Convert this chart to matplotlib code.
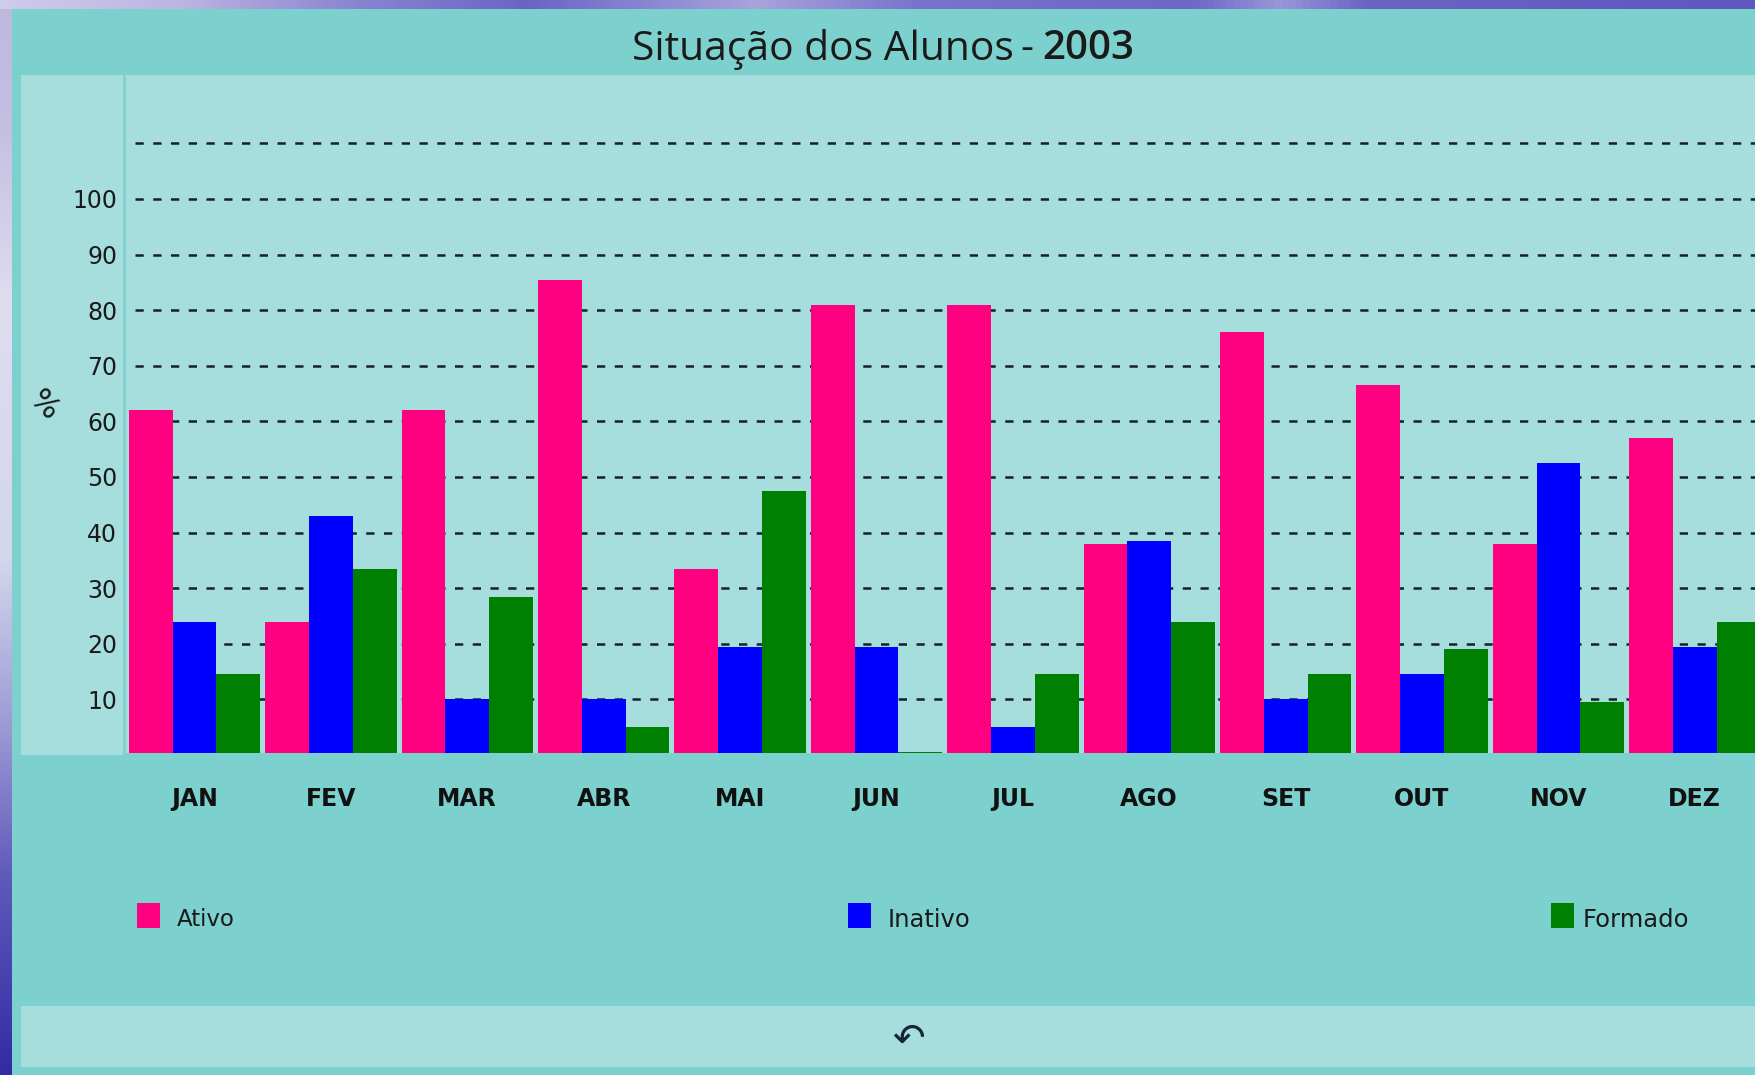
import numpy as np
import matplotlib
matplotlib.use("Agg")
import matplotlib.pyplot as plt
from matplotlib.patches import Rectangle
from matplotlib.colors import LinearSegmentedColormap

months = ["JAN", "FEV", "MAR", "ABR", "MAI", "JUN", "JUL", "AGO", "SET", "OUT", "NOV", "DEZ"]
ativo = [62, 24, 62, 85.5, 33.5, 81, 81, 38, 76, 66.5, 38, 57]
inativo = [24, 43, 10, 10, 19.5, 19.5, 5, 38.5, 10, 14.5, 52.5, 19.5]
formado = [14.5, 33.5, 28.5, 5, 47.5, 0.5, 14.5, 24, 14.5, 19, 9.5, 24]
series_names = ["Ativo", "Inativo", "Formado"]
grid_values = list(range(10, 120, 10))
tick_values = list(range(10, 110, 10))

W, H = 1755, 1075
PINK, BLUE, GREEN = "#FF0080", "#0000FF", "#008000"
PANEL, LIGHT, LINE = "#7CD0CE", "#A5DEDD", "#7FD0CE"

fig = plt.figure(figsize=(W / 100, H / 100), dpi=100)

def px_axes(x0, y0, x1, y1, **kw):
    return fig.add_axes([x0 / W, 1 - y1 / H, (x1 - x0) / W, (y1 - y0) / H], **kw)

# backdrop
bg = fig.add_axes([0, 0, 1, 1], zorder=0)
bg.set_xlim(0, W); bg.set_ylim(H, 0); bg.axis("off")
left_cmap = LinearSegmentedColormap.from_list("l", [
    (0.00, "#BDB8DE"), (0.12, "#C4C0E2"), (0.28, "#DEDDF0"), (0.52, "#D4D6EC"),
    (0.68, "#9C98D4"), (0.82, "#5E58BA"), (1.00, "#322CA4")])
top_cmap = LinearSegmentedColormap.from_list("t", [
    (0.00, "#CFCBEA"), (0.10, "#BBB6E2"), (0.20, "#8A85D0"), (0.30, "#6A64C6"),
    (0.43, "#A8A4DC"), (0.52, "#7A74CC"), (0.68, "#6C66C6"), (0.73, "#9A96D8"),
    (0.78, "#6A64C4"), (1.00, "#5E58BE")])
bg.imshow(np.linspace(0, 1, 256)[:, None], cmap=left_cmap, extent=(0, 12, H, 0), aspect="auto")
bg.imshow(np.linspace(0, 1, 256)[None, :], cmap=top_cmap, extent=(0, W, 9, 0), aspect="auto")
bg.set_xlim(0, W); bg.set_ylim(H, 0)
bg.add_patch(Rectangle((12, 9), W - 12, H - 9, color=PANEL, lw=0))
bg.add_patch(Rectangle((21, 75), 103, 680, color=LIGHT, lw=0))
bg.add_patch(Rectangle((21, 1006), W - 21, 61, color=LIGHT, lw=0))

# plot
ax = px_axes(124, 75, W, 753, zorder=1)
ax.set_facecolor(LIGHT)
x = np.arange(len(months))
unit = 136.4
bw = 43.8 / unit
x0 = 194.4
ax.set_xlim((124 - x0) / unit, (W - x0) / unit)
ax.set_ylim(2 / 5.56, 680 / 5.56)
ax.hlines(grid_values, (135 - x0) / unit, (W - x0) / unit, colors="#14202A", lw=1.8,
          linestyles=[(0, (3.3, 3.8))], zorder=1)
for off, vals, col, name in zip((-bw, 0, bw), (ativo, inativo, formado), (PINK, BLUE, GREEN), series_names):
    ax.bar(x + off, vals, bw, color=col, lw=0, zorder=2, label=name)
for s in ("top", "right", "bottom"):
    ax.spines[s].set_visible(False)
ax.spines["left"].set_color(LINE)
ax.spines["left"].set_linewidth(2)
ax.set_xticks(x, months, fontsize=17, fontweight="bold", color="#111111")
ax.set_yticks(tick_values, [str(v) for v in tick_values], fontsize=17, color="#1A1A1A")
ax.tick_params(axis="both", length=0)
ax.tick_params(axis="x", pad=24.5)
ax.tick_params(axis="y", pad=5)

# title
def ftext(px, py, s, **kw):
    fig.text(px / W, 1 - py / H, s, va="center", **kw)
ftext(632, 49, "Situação dos Alunos", fontsize=29.3, family="Open Sans", color="#1A1A1A", zorder=5)
ftext(1020, 49, "-", fontsize=29, family="Open Sans", color="#1A1A1A", zorder=5)
ftext(1042, 49, "2003", fontsize=29, family="Open Sans", fontweight="semibold", color="#1A1A1A", zorder=5)

# y label
ftext(44, 405, "%", fontsize=22, rotation=-45, ha="center", color="#1A1A1A", zorder=5)

# legend
legend_boxes = [137, 848, 1551]
legend_text = [177, 888, 1583]
legend_size = [16.5, 17.5, 17.5]
for bx, tx, fs, col, name in zip(legend_boxes, legend_text, legend_size, (PINK, BLUE, GREEN), series_names):
    bg.add_patch(Rectangle((bx, 903), 23, 25, color=col, lw=0))
    ftext(tx, 920, name, fontsize=fs, color="#1A1A1A", zorder=5)

# undo icon
ftext(908, 1040, "↶", fontsize=28, ha="center", color="#14233A", zorder=5)

fig.savefig("out.png", dpi=100)
